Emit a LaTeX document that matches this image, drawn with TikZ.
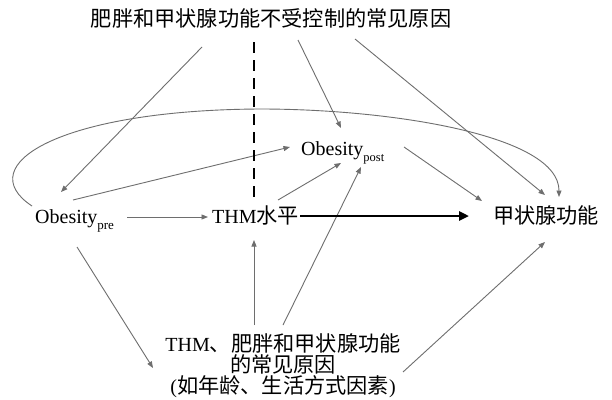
\documentclass[tikz,border=0pt]{standalone}
\usepackage{fontspec}
\setmainfont{Liberation Serif}
\newfontfamily\cjk{Noto Sans CJK SC}[Scale=1.06]
\usetikzlibrary{arrows.meta,calc}
\definecolor{lg}{HTML}{6E6E6E}
\begin{document}
\begin{tikzpicture}[x=1pt,y=-1pt,
  conn/.style={draw=lg, line width=0.9pt, -{Triangle[length=6.5pt,width=5pt]}},
  lbl/.style={inner sep=0pt, font=\fontsize{20}{21}\selectfont, text=black}]
\useasboundingbox[fill=white] (0,0) rectangle (612,399);

\node[lbl] (T) at (271,18) {\cjk 肥胖和甲状腺功能不受控制的常见原因};
\node[lbl,anchor=base west] (P) at (35,223) {Obesity\raisebox{-6.5pt}{\fontsize{13}{13}\selectfont pre}};
\node[lbl,anchor=base west] (H) at (212,223) {THM{\cjk 水平}};
\node[lbl,anchor=base west] (Q) at (301,155) {Obesity\raisebox{-6.5pt}{\fontsize{12.5}{12.5}\selectfont post}};
\node[lbl] (F) at (546,215) {\cjk 甲状腺功能};
\node[lbl,align=center] (B) at (283,366) {THM{\cjk 、肥胖和甲状腺功能}\\{\cjk 的常见原因}\\({\cjk 如年龄、生活方式因素})};

% from the top node
\draw[conn] ($(T.center)+(-69,29)$) -- ($(P.base west)+(26,-31)$);
\draw[conn] ($(T.center)+(27,22)$) -- ($(Q.base west)+(40,-27)$);
\draw[conn] ($(T.center)+(84,21)$) -- ($(F.center)+(-1,-20)$);

% big curve
\draw[conn] ($(P.base west)+(-3,-17)$) .. controls (-30,165) and (60,110) .. (260,109)
   .. controls (390,109) and (559,135) .. ($(F.center)+(13,-18)$);

% middle row
\draw[conn] ($(P.base west)+(92,-6)$) -- ($(H.base west)+(-4,-6)$);
\draw[conn] ($(P.base west)+(38,-23)$) -- ($(Q.base west)+(-11,-8)$);
\draw[conn] ($(H.base west)+(66,-23)$) -- ($(Q.base west)+(40,8)$);
\draw[conn] ($(Q.base west)+(103,-8)$) -- ($(F.center)+(-64,-14)$);

% bottom node
\draw[conn] ($(P.base west)+(42,24)$) -- ($(B.center)+(-130,2)$);
\draw[conn] ($(B.center)+(-29,-41)$) -- ($(H.base west)+(42,17)$);
\draw[conn] ($(B.center)+(0,-41)$) -- ($(Q.base west)+(60,12)$);
\draw[conn] ($(B.center)+(120,6)$) -- ($(F.center)+(-1,27)$);

% thick arrow
\draw[line width=2.5pt,-{Triangle[length=10pt,width=9pt]}] ($(H.base west)+(88,-7)$) -- ($(F.center)+(-77,1)$);

% dashed line
\coordinate (d1) at (254,42);
\coordinate (d2) at (254,200);
\draw[line width=2.8pt, dash pattern=on 11pt off 7pt] (d1) -- (d2);
\end{tikzpicture}
\end{document}
